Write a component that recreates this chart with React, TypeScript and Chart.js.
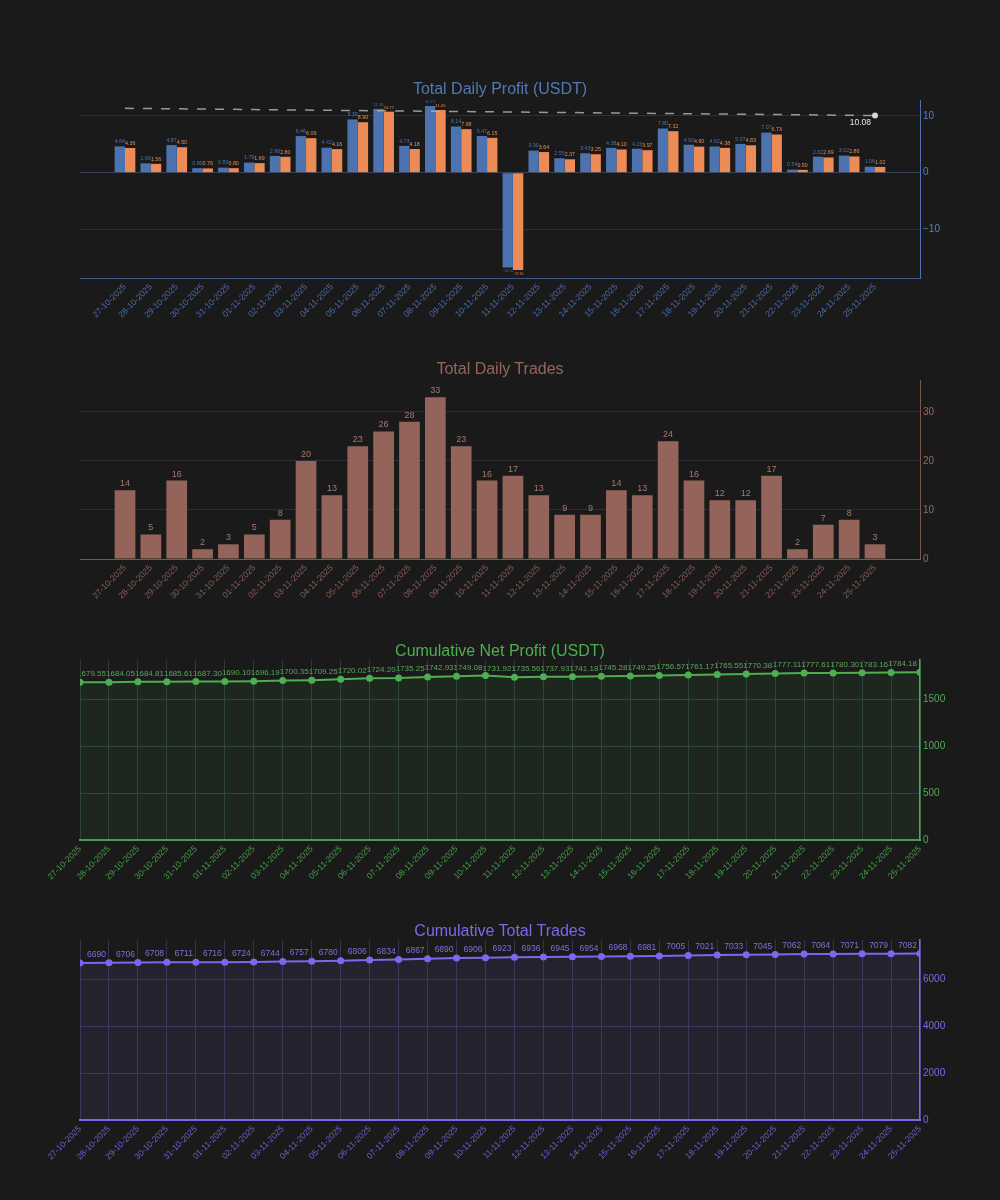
import React, { useEffect, useRef } from "react";
import { Chart, registerables } from "chart.js";

Chart.register(...registerables);

const FONT = '"Liberation Sans", Arial, sans-serif';
const BG = "#1a1a1a";

// ---------- data ----------
const DATES = [
  "27-10-2025", "28-10-2025", "29-10-2025", "30-10-2025", "31-10-2025",
  "01-11-2025", "02-11-2025", "03-11-2025", "04-11-2025", "05-11-2025",
  "06-11-2025", "07-11-2025", "08-11-2025", "09-11-2025", "10-11-2025",
  "11-11-2025", "12-11-2025", "13-11-2025", "14-11-2025", "15-11-2025",
  "16-11-2025", "17-11-2025", "18-11-2025", "19-11-2025", "20-11-2025",
  "21-11-2025", "22-11-2025", "23-11-2025", "24-11-2025", "25-11-2025",
];

const GROSS_PROFIT = [
  4.64, 1.66, 4.87, 0.80, 0.89, 1.79, 2.96, 6.46, 4.42, 9.39,
  11.26, 4.73, 11.77, 8.14, 6.47, -16.74, 3.90, 2.55, 3.43, 4.38,
  4.23, 7.80, 4.92, 4.62, 5.07, 7.07, 0.54, 2.82, 3.02, 1.06,
];

const NET_PROFIT = [
  4.36, 1.56, 4.50, 0.76, 0.80, 1.69, 2.80, 6.09, 4.16, 8.90,
  10.77, 4.18, 11.05, 7.68, 6.15, -17.16, 3.64, 2.37, 3.25, 4.10,
  3.97, 7.32, 4.60, 4.38, 4.83, 6.73, 0.50, 2.69, 2.86, 1.02,
];

const PROFIT_TREND = [
  11.35, 11.31, 11.26, 11.22, 11.18, 11.13, 11.09, 11.04, 11.00, 10.96,
  10.91, 10.87, 10.83, 10.78, 10.74, 10.70, 10.65, 10.61, 10.57, 10.52,
  10.48, 10.43, 10.39, 10.35, 10.30, 10.26, 10.22, 10.17, 10.13, 10.08,
];

const DAILY_TRADES = [
  14, 5, 16, 2, 3, 5, 8, 20, 13, 23,
  26, 28, 33, 23, 16, 17, 13, 9, 9, 14,
  13, 24, 16, 12, 12, 17, 2, 7, 8, 3,
];

const CUM_NET_PROFIT = [
  1677.99, 1679.55, 1684.05, 1684.81, 1685.61, 1687.30, 1690.10, 1696.19, 1700.35, 1709.25,
  1720.02, 1724.20, 1735.25, 1742.93, 1749.08, 1731.92, 1735.56, 1737.93, 1741.18, 1745.28,
  1749.25, 1756.57, 1761.17, 1765.55, 1770.38, 1777.11, 1777.61, 1780.30, 1783.16, 1784.18,
];

const CUM_TRADES = [
  6685, 6690, 6706, 6708, 6711, 6716, 6724, 6744, 6757, 6780,
  6806, 6834, 6867, 6890, 6906, 6923, 6936, 6945, 6954, 6968,
  6981, 7005, 7021, 7033, 7045, 7062, 7064, 7071, 7079, 7082,
];

const PROFIT_TICKS = [-10, 0, 10];
const TRADES_TICKS = [0, 10, 20, 30];
const CUM_PROFIT_TICKS = [0, 500, 1000, 1500];
const CUM_TRADES_TICKS = [0, 2000, 4000, 6000];

// ---------- helpers ----------
const minus = (s: string) => s.replace("-", "\u2212");
const fmt2 = (v: number) => minus(v.toFixed(2));
const fmt0 = (v: number) => minus(String(Math.round(v)));

const valueLabelPlugin = {
  id: "valueLabels",
  afterDatasetsDraw(chart: any) {
    const { ctx, chartArea } = chart;
    ctx.save();
    ctx.beginPath();
    ctx.rect(chartArea.left, chartArea.top, chartArea.right - chartArea.left, chartArea.bottom - chartArea.top);
    ctx.clip();
    chart.data.datasets.forEach((ds: any, di: number) => {
      const cfg = ds.valueLabels;
      if (!cfg) return;
      const meta = chart.getDatasetMeta(di);
      const n = meta.data.length;
      meta.data.forEach((el: any, i: number) => {
        if (cfg.mode === "last" && i !== n - 1) return;
        const raw = ds.data[i];
        const v = typeof raw === "number" ? raw : raw.y;
        const text = cfg.format(v);
        const p = el.getProps(["x", "y", "base", "width"], true);
        let size = cfg.size;
        if (cfg.mode === "barFit") {
          ctx.font = `100px ${FONT}`;
          const w100 = ctx.measureText(text).width;
          size = Math.min(size, (p.width / w100) * 100);
        }
        ctx.font = `${size}px ${FONT}`;
        ctx.fillStyle = cfg.color;
        if (cfg.mode === "barFit" || cfg.mode === "bar") {
          ctx.textAlign = "center";
          if (v >= 0) {
            ctx.textBaseline = "bottom";
            ctx.fillText(text, p.x, p.y - 2);
          } else {
            ctx.textBaseline = "top";
            ctx.fillText(text, p.x, p.y + 2);
          }
        } else if (cfg.mode === "topLeft") {
          ctx.textAlign = "right";
          ctx.textBaseline = "bottom";
          ctx.fillText(text, p.x - 3, p.y - 4);
        } else if (cfg.mode === "last") {
          ctx.textAlign = "right";
          ctx.textBaseline = "top";
          ctx.fillText(text, p.x - 4, p.y + 3);
        }
      });
    });
    ctx.restore();
  },
};

function fixedTicks(values: number[]) {
  return (s: any) => {
    s.ticks = values.map((v) => ({ value: v }));
  };
}

function linearX(color: string, borderColor: string) {
  return {
    type: "linear",
    offset: false,
    min: -1.74,
    max: DATES.length - 1 + 1.74,
    bounds: "data",
    afterBuildTicks: (s: any) => {
      s.ticks = DATES.map((_, i) => ({ value: i }));
    },
    afterFit: (s: any) => {
      s.height = 70;
    },
    grid: { display: false, drawTicks: false, offset: false },
    border: { display: true, color: borderColor, width: 1 },
    ticks: {
      autoSkip: false,
      maxRotation: 45,
      minRotation: 45,
      padding: 4,
      color,
      font: { size: 8.5, family: FONT },
      callback: (v: number) => DATES[v] ?? "",
    },
  };
}

function categoryX(color: string, gridColor: string, borderColor: string) {
  return {
    type: "category",
    offset: false,
    afterFit: (s: any) => {
      s.height = 70;
    },
    grid: { display: true, color: gridColor, drawTicks: false },
    border: { display: true, color: borderColor, width: 2 },
    ticks: {
      autoSkip: false,
      maxRotation: 45,
      minRotation: 45,
      padding: 4,
      color,
      font: { size: 8.5, family: FONT },
    },
  };
}

function rightY(
  min: number,
  max: number,
  ticks: number[],
  color: string,
  gridColor: any,
  borderColor: string,
  borderWidth: number,
  format: (v: number) => string
) {
  return {
    position: "right",
    min,
    max,
    bounds: "data",
    afterBuildTicks: fixedTicks(ticks),
    afterFit: (s: any) => {
      s.width = 80;
    },
    grid: { color: gridColor, drawTicks: false },
    border: { display: true, color: borderColor, width: borderWidth },
    ticks: { color, padding: 3, font: { size: 10, family: FONT }, callback: (v: number) => format(v) },
  };
}

const baseOptions = {
  responsive: false,
  animation: false,
  events: [],
  layout: { padding: { top: 10, left: 80, right: 0, bottom: 0 } },
  plugins: { legend: { display: false }, tooltip: { enabled: false }, title: { display: false } },
};

// ---------- chart configs ----------
function profitConfig() {
  const BLUE = "#4c72b0";
  const ORANGE = "#ec8b55";
  return {
    type: "bar",
    data: {
      datasets: [
        {
          type: "line",
          data: PROFIT_TREND.map((y, x) => ({ x, y })),
          borderColor: "rgba(175,175,175,0.85)",
          borderWidth: 1.5,
          borderDash: [9, 9],
          pointRadius: (c: any) => (c.dataIndex === PROFIT_TREND.length - 1 ? 3 : 0),
          pointBackgroundColor: "#d8d8d8",
          pointBorderWidth: 0,
          fill: false,
          order: 0,
          valueLabels: { mode: "last", size: 8.5, color: "#e6e6e6", format: fmt2 },
        },
        {
          type: "bar",
          data: GROSS_PROFIT.map((y, x) => ({ x, y })),
          backgroundColor: BLUE,
          categoryPercentage: 0.8,
          barPercentage: 1.0,
          order: 1,
          valueLabels: { mode: "barFit", size: 10, color: BLUE, format: fmt2 },
        },
        {
          type: "bar",
          data: NET_PROFIT.map((y, x) => ({ x, y })),
          backgroundColor: ORANGE,
          categoryPercentage: 0.8,
          barPercentage: 1.0,
          order: 1,
          valueLabels: { mode: "barFit", size: 10, color: ORANGE, format: fmt2 },
        },
      ],
    },
    options: {
      ...baseOptions,
      scales: {
        x: linearX("#4c6ea8", "#3f5a85"),
        y: rightY(
          -18.57,
          12.82,
          PROFIT_TICKS,
          "#5a7fbf",
          (c: any) => (c.tick && c.tick.value === 0 ? "#3b4150" : "#2c2f38"),
          "#4c72b0",
          1,
          fmt0
        ),
      },
    },
    plugins: [valueLabelPlugin],
  };
}

function tradesConfig() {
  const BROWN = "#94645a";
  return {
    type: "bar",
    data: {
      datasets: [
        {
          data: DAILY_TRADES.map((y, x) => ({ x, y })),
          backgroundColor: BROWN,
          categoryPercentage: 0.8,
          barPercentage: 1.0,
          valueLabels: { mode: "bar", size: 9, color: "#a8786e", format: fmt0 },
        },
      ],
    },
    options: {
      ...baseOptions,
      scales: {
        x: linearX("#8a5f56", "#7a5850"),
        y: rightY(0, 36.5, TRADES_TICKS, "#9a6a60", "#2d2d3b", "#7a5850", 1, fmt0),
      },
    },
    plugins: [valueLabelPlugin],
  };
}

function cumProfitConfig() {
  const GREEN = "#4caf50";
  return {
    type: "line",
    data: {
      labels: DATES,
      datasets: [
        {
          data: CUM_NET_PROFIT,
          borderColor: GREEN,
          borderWidth: 2,
          pointRadius: 3.5,
          pointBackgroundColor: GREEN,
          pointBorderWidth: 0,
          fill: "origin",
          clip: 0,
          backgroundColor: "rgba(76,175,80,0.09)",
          tension: 0,
          valueLabels: { mode: "topLeft", size: 8, color: "#58a85a", format: fmt2 },
        },
      ],
    },
    options: {
      ...baseOptions,
      scales: {
        x: categoryX("#45a049", "#2b3b3a", "#4c9a50"),
        y: rightY(0, 1915, CUM_PROFIT_TICKS, "#4caf50", "#2e3d3c", "#4caf50", 1.5, fmt0),
      },
    },
    plugins: [valueLabelPlugin],
  };
}

function cumTradesConfig() {
  const PURPLE = "#7b68ee";
  return {
    type: "line",
    data: {
      labels: DATES,
      datasets: [
        {
          data: CUM_TRADES,
          borderColor: PURPLE,
          borderWidth: 2,
          pointRadius: 3.5,
          pointBackgroundColor: PURPLE,
          pointBorderWidth: 0,
          fill: "origin",
          clip: 0,
          backgroundColor: "rgba(123,104,238,0.1)",
          tension: 0,
          valueLabels: { mode: "topLeft", size: 8.5, color: "#7e70d8", format: fmt0 },
        },
      ],
    },
    options: {
      ...baseOptions,
      scales: {
        x: categoryX("#7060d0", "#34344a", "#7b68ee"),
        y: rightY(0, 7660, CUM_TRADES_TICKS, "#7b68ee", "#35354a", "#7b68ee", 1.5, fmt0),
      },
    },
    plugins: [valueLabelPlugin],
  };
}

// ---------- components ----------
function ChartCanvas({ top, height, make }: { top: number; height: number; make: () => any }) {
  const ref = useRef<HTMLCanvasElement | null>(null);
  useEffect(() => {
    if (!ref.current) return;
    const chart = new Chart(ref.current, make());
    return () => chart.destroy();
  }, []);
  return (
    <canvas
      ref={ref}
      width={1000}
      height={height}
      style={{ position: "absolute", left: 0, top, width: 1000, height }}
    />
  );
}

function Title({ top, color, children }: { top: number; color: string; children: React.ReactNode }) {
  return (
    <div
      style={{
        position: "absolute",
        left: 0,
        top,
        width: 1000,
        textAlign: "center",
        fontFamily: FONT,
        fontSize: 16,
        lineHeight: "20px",
        color,
        pointerEvents: "none",
      }}
    >
      {children}
    </div>
  );
}

export default function App() {
  useEffect(() => {
    document.body.style.background = BG;
  }, []);
  return (
    <div style={{ position: "absolute", left: 0, top: 0, width: 1000, height: 1200, background: BG, overflow: "hidden" }}>
      <ChartCanvas top={90} height={258} make={profitConfig} />
      <ChartCanvas top={370} height={259} make={tradesConfig} />
      <ChartCanvas top={650} height={260} make={cumProfitConfig} />
      <ChartCanvas top={930} height={260} make={cumTradesConfig} />
      <Title top={79} color="#5279b4">Total Daily Profit (USDT)</Title>
      <Title top={359} color="#96665c">Total Daily Trades</Title>
      <Title top={641} color="#4caf50">Cumulative Net Profit (USDT)</Title>
      <Title top={921} color="#7b68ee">Cumulative Total Trades</Title>
    </div>
  );
}
